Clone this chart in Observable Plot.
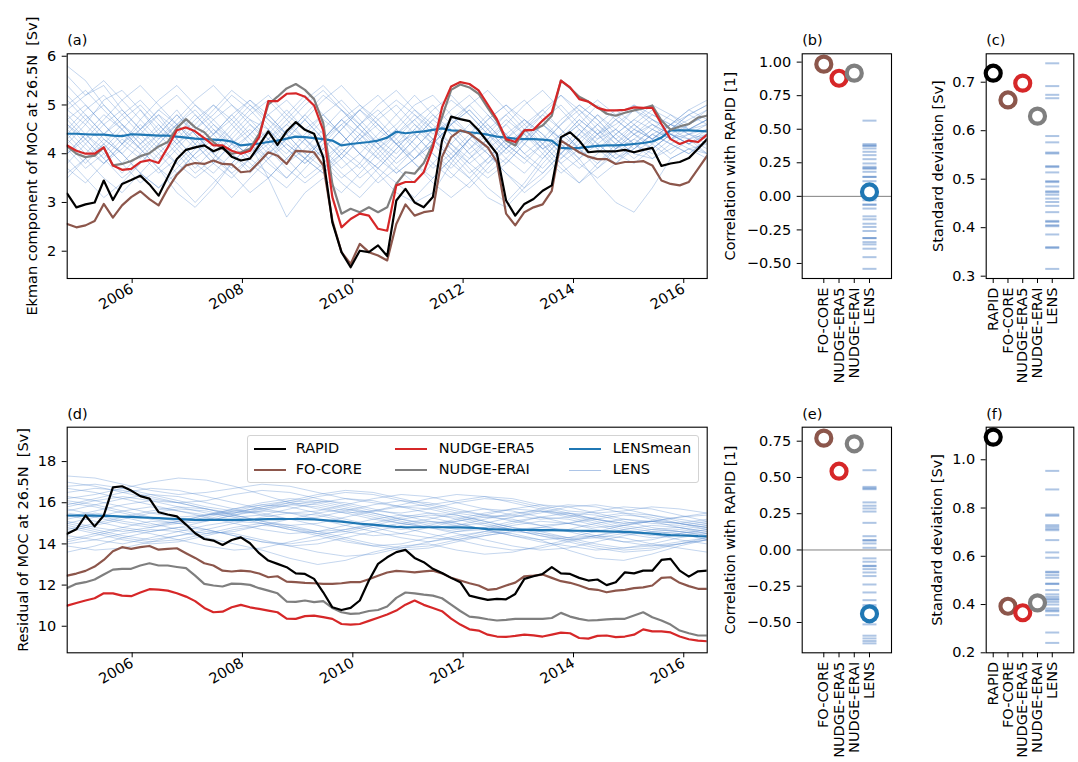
<!DOCTYPE html>
<html><head><meta charset="utf-8">
<script src="https://cdn.jsdelivr.net/npm/d3@7"></script>
<script src="https://cdn.jsdelivr.net/npm/@observablehq/plot@0.6"></script>
<style>
body{margin:0;background:#fff;}
#fig{position:relative;width:1078px;height:762px;font-family:"DejaVu Sans",sans-serif;font-size:14.5px;color:#000;}
#fig svg{position:absolute;left:0;top:0;}
.legend{position:absolute;box-sizing:border-box;border:1px solid #d3d3d3;border-radius:3px;background:rgba(255,255,255,0.8);}
.legend .sw{position:absolute;width:32px;height:0;}
.legend .lb{position:absolute;line-height:1;white-space:pre;}
</style></head><body><div id="fig"></div><script>
// ---------------- data ----------------
const T0 = 2004.822, T1 = 2016.424;           // time span of the records (decimal years)
const yearTicks = [2006, 2008, 2010, 2012, 2014, 2016];

// (a) Ekman component, 71 samples (~2 months apart)
const rapidA = [3.18,2.90,2.96,3.00,3.45,3.05,3.38,3.46,3.55,3.37,3.14,3.52,3.89,4.08,4.13,4.17,4.05,4.13,3.94,3.86,3.90,4.17,4.46,4.18,4.46,4.65,4.49,4.41,3.93,2.59,1.98,1.67,2.01,1.98,2.12,1.90,3.04,3.28,3.00,2.90,3.11,4.27,4.76,4.71,4.67,4.48,4.24,4.00,3.04,2.73,2.97,3.07,3.24,3.35,4.34,4.44,4.27,4.03,4.05,4.05,4.05,4.08,4.03,4.08,4.12,3.75,3.80,3.83,3.91,4.10,4.30];
const focoreA = [2.56,2.49,2.53,2.62,2.97,2.69,2.94,3.11,3.23,3.07,2.94,3.28,3.57,3.76,3.81,3.79,3.86,3.79,3.78,3.62,3.64,3.83,4.03,3.96,3.79,4.06,4.05,4.03,3.76,2.63,1.98,1.74,2.15,1.98,1.91,1.81,2.56,2.96,2.73,2.80,2.83,3.93,4.34,4.48,4.42,4.28,4.13,3.83,2.77,2.53,2.80,2.90,2.96,3.24,4.27,4.15,4.03,3.94,3.89,3.89,3.79,3.83,3.83,3.85,3.76,3.45,3.38,3.35,3.42,3.69,3.96];
const era5A = [4.17,4.06,4.00,4.00,4.13,3.76,3.67,3.69,3.83,3.87,3.81,4.13,4.48,4.54,4.46,4.32,4.17,4.17,4.06,4.00,4.06,4.34,5.08,5.08,5.23,5.24,5.17,4.99,4.48,3.11,2.49,2.66,2.77,2.73,2.46,2.42,3.35,3.42,3.42,3.62,4.13,4.95,5.38,5.47,5.43,5.30,5.01,4.71,4.30,4.24,4.48,4.49,4.68,4.85,5.50,5.36,5.12,5.07,4.94,4.89,4.89,4.90,4.95,4.94,4.94,4.61,4.30,4.20,4.27,4.24,4.39];
const eraiA = [4.15,4.00,3.93,3.96,4.13,3.76,3.79,3.85,3.95,4.01,4.15,4.24,4.53,4.71,4.54,4.44,4.24,4.10,4.00,4.03,4.10,4.41,5.01,5.17,5.34,5.43,5.31,5.12,4.63,3.38,2.77,2.87,2.80,2.90,2.80,2.90,3.38,3.62,3.59,3.81,4.20,4.75,5.31,5.42,5.36,5.23,4.94,4.67,4.27,4.17,4.48,4.49,4.58,4.78,5.50,5.35,5.17,5.07,4.95,4.82,4.78,4.84,4.89,4.93,4.99,4.68,4.49,4.56,4.61,4.74,4.78];
const lensMeanA = [4.41,4.41,4.40,4.39,4.39,4.37,4.36,4.40,4.39,4.38,4.37,4.37,4.35,4.33,4.31,4.30,4.29,4.28,4.25,4.17,4.19,4.21,4.24,4.27,4.31,4.35,4.34,4.32,4.30,4.27,4.17,4.20,4.22,4.24,4.27,4.33,4.45,4.42,4.44,4.46,4.49,4.52,4.48,4.47,4.44,4.42,4.39,4.35,4.33,4.31,4.30,4.30,4.29,4.27,4.12,4.11,4.12,4.14,4.16,4.17,4.17,4.18,4.20,4.22,4.25,4.33,4.48,4.48,4.48,4.47,4.46];
// (a) LENS members, 36 samples (~4 months apart)
const lensA = [
"5.8 5.5 5.0 4.6 4.2 4.5 4.9 4.4 4.0 4.3 4.7 4.5 4.1 3.8 4.2 4.6 4.9 4.5 4.2 4.4 4.0 3.7 4.1 4.5 4.8 4.4 4.1 4.3 4.6 4.2 3.9 4.1 4.4 4.6 4.5 4.7",
"5.6 5.2 5.4 4.9 4.5 4.8 4.3 3.9 4.2 4.6 5.0 4.7 4.4 4.8 5.2 4.9 4.5 4.2 3.9 4.3 4.7 5.1 4.8 4.4 4.0 4.3 4.7 5.0 4.6 4.3 4.5 4.9 4.6 4.3 4.6 4.8",
"4.2 4.6 5.1 5.3 4.9 4.4 4.0 3.6 3.9 4.4 4.8 5.1 4.7 4.3 3.9 3.5 3.8 4.3 4.6 5.0 5.2 4.8 4.4 4.1 3.8 4.2 4.6 4.3 4.0 4.4 4.8 5.0 4.7 4.4 4.3 4.5",
"3.6 3.9 4.3 4.0 3.6 3.3 3.7 4.1 4.5 4.2 3.8 3.5 3.9 4.3 4.7 4.4 4.0 3.7 3.4 3.1 3.5 3.9 4.3 4.6 4.2 3.9 3.6 4.0 4.4 4.1 3.8 4.1 4.4 4.2 4.0 4.3",
"4.5 4.1 3.8 4.2 4.7 5.1 5.4 5.0 4.6 4.2 4.0 4.4 4.8 5.2 4.8 4.4 4.0 3.6 3.2 3.0 3.2 3.8 4.3 4.7 5.0 4.7 4.3 3.9 4.2 4.6 4.9 4.6 4.3 4.5 4.8 5.0",
"4.9 4.6 4.2 3.8 3.4 3.7 4.1 4.5 4.8 5.2 4.9 4.5 4.1 3.8 4.1 4.5 4.9 5.2 4.8 4.4 4.0 3.6 3.3 3.7 4.1 4.5 4.9 5.2 4.9 4.5 4.1 4.3 4.6 4.4 4.2 4.4",
"4.0 4.4 4.8 4.5 4.1 3.7 3.2 2.9 3.3 3.8 4.2 3.5 2.7 3.2 3.5 3.2 3.6 4.0 4.4 4.8 4.5 4.1 3.7 3.3 3.0 3.4 3.9 4.3 4.7 4.4 4.0 3.8 4.1 4.4 4.2 4.0",
"5.2 4.8 4.4 4.7 5.0 4.6 4.2 4.5 4.9 5.3 5.0 4.6 4.2 3.9 4.3 4.7 5.0 4.7 4.3 3.9 4.2 4.6 5.0 5.3 4.9 4.5 4.1 4.4 4.8 5.1 4.8 4.5 4.3 4.6 4.9 5.1",
"3.9 3.5 3.1 3.4 3.8 4.2 4.6 4.3 3.9 3.6 3.2 3.5 3.9 4.3 4.0 3.6 3.3 3.7 4.1 4.5 4.2 3.8 3.5 3.1 2.9 3.3 3.8 4.2 3.9 3.4 3.0 2.8 3.3 3.9 4.1 4.0",
"4.7 5.0 4.6 4.2 3.9 4.3 4.7 5.1 5.4 5.0 4.6 4.2 3.8 4.1 4.5 4.9 4.6 4.2 3.8 4.1 4.5 4.9 5.2 4.8 4.4 4.0 4.3 4.7 5.0 4.7 4.3 4.6 4.9 4.7 4.5 4.6",
"4.3 3.9 3.5 3.2 3.6 4.0 4.4 4.8 4.4 4.0 3.7 4.1 4.5 4.2 3.8 3.4 3.1 3.5 3.9 4.3 4.7 4.4 4.0 3.6 3.9 4.3 4.6 4.2 3.8 3.5 3.8 4.2 4.5 4.3 4.1 4.2",
"5.0 5.3 4.9 4.5 4.1 4.4 4.8 4.4 4.0 3.6 3.9 4.3 4.7 5.1 5.4 5.0 4.6 4.2 4.5 4.9 4.6 4.2 3.9 4.2 4.6 5.0 5.3 4.9 4.5 4.1 4.4 4.7 4.5 4.8 4.6 4.9",
"3.8 4.2 4.6 4.9 4.5 4.1 3.8 4.2 4.6 4.3 3.9 3.6 3.3 3.7 4.1 4.5 4.9 4.6 4.2 3.8 3.5 3.9 4.3 4.0 3.6 3.3 3.6 4.0 4.4 4.8 4.5 4.2 4.0 4.3 4.4 4.2",
"4.6 4.3 4.7 5.1 5.4 5.0 4.6 4.2 3.8 3.5 3.9 4.3 4.6 4.3 3.9 4.2 4.6 5.0 5.3 4.9 4.5 4.1 3.8 4.1 4.4 4.7 4.4 4.0 3.7 4.0 4.4 4.7 5.0 4.8 4.5 4.7",
"4.1 3.7 4.0 4.4 4.1 3.7 3.4 3.0 3.4 3.8 4.2 3.9 3.5 3.9 4.3 4.7 4.3 3.9 3.6 3.9 4.3 4.7 4.4 4.0 3.6 3.2 3.5 3.9 4.3 4.6 4.3 4.0 3.9 4.2 4.0 4.3",
"5.4 5.0 4.6 4.2 4.5 4.9 5.2 4.8 4.4 4.7 5.1 4.8 4.4 4.0 3.7 4.0 4.4 4.8 5.1 4.8 4.4 4.7 5.0 4.6 4.2 3.9 4.2 4.6 4.9 4.6 4.2 4.5 4.8 4.6 4.9 4.7",
"4.4 4.8 4.4 4.0 3.6 3.3 3.6 4.0 4.4 4.8 5.1 4.7 4.3 3.9 3.6 4.0 4.4 4.1 3.7 3.4 3.8 4.2 4.6 4.3 3.9 3.6 4.0 4.4 4.1 3.7 4.0 4.3 4.1 4.4 4.2 4.5",
"4.8 4.4 4.1 4.5 4.9 4.5 4.1 3.7 4.1 4.5 4.9 5.2 4.8 4.5 4.8 5.1 4.7 4.3 4.0 4.4 4.8 4.5 4.1 4.4 4.8 5.1 4.7 4.3 4.6 5.0 4.7 4.4 4.7 4.5 4.7 4.9",
"3.5 3.9 4.2 3.8 4.2 4.6 4.2 3.8 3.5 3.1 3.5 3.9 4.2 3.9 3.6 3.9 4.3 4.6 4.2 3.8 3.4 3.1 3.4 3.8 4.2 4.5 4.2 3.8 3.4 3.7 4.1 4.4 4.2 3.9 4.1 3.9",
"4.9 5.2 5.5 5.1 4.7 4.3 4.6 5.0 4.7 4.3 3.9 4.2 4.6 5.0 5.3 4.9 4.5 4.1 4.4 4.7 5.0 4.6 4.2 3.8 4.1 4.5 4.8 5.2 4.8 4.4 4.6 4.9 4.7 4.5 4.8 4.6",
"4.2 3.8 4.2 4.6 4.3 3.9 4.3 4.7 5.0 4.6 4.2 3.8 3.5 3.9 4.3 4.7 4.4 4.0 3.6 3.9 4.3 4.0 3.6 3.9 4.3 4.7 4.4 4.0 4.4 4.8 4.4 4.1 4.4 4.2 4.4 4.3",
"4.0 4.3 3.9 3.5 3.8 4.2 4.6 4.9 4.5 4.1 4.4 4.8 5.1 4.7 4.3 3.9 3.5 3.8 4.2 4.6 4.3 3.9 4.3 4.7 5.0 4.6 4.2 3.8 4.1 4.5 4.2 3.9 4.2 4.5 4.3 4.1",
"4.7 4.3 3.9 4.3 4.0 3.6 3.9 4.3 4.7 5.0 4.7 4.3 4.0 4.4 4.8 4.4 4.0 3.7 4.1 4.5 4.9 5.2 4.8 4.4 4.1 4.5 4.1 3.7 3.4 3.8 4.2 4.6 4.3 4.0 4.3 4.4",
"3.7 3.4 3.8 4.2 4.6 4.2 3.8 3.5 3.8 4.2 4.5 4.1 3.7 3.4 3.7 4.1 3.8 3.4 3.7 4.1 4.5 4.2 3.8 3.5 3.8 4.2 4.6 4.3 3.9 4.2 4.5 4.2 3.9 4.1 4.3 4.0",
"5.1 4.7 4.3 4.0 4.4 4.8 4.5 4.1 4.4 4.8 4.4 4.0 4.3 4.7 5.1 5.4 5.0 4.6 4.2 3.9 4.2 4.6 4.9 4.5 4.1 4.4 4.8 4.5 4.1 4.4 4.7 5.0 4.8 4.6 4.8 5.0",
"4.4 4.0 4.4 4.8 5.1 4.7 4.3 3.9 3.6 4.0 4.4 4.8 4.4 4.0 4.3 4.6 4.2 3.9 4.3 4.7 4.3 3.9 3.5 3.9 4.3 4.6 4.9 4.5 4.1 3.8 4.1 4.5 4.3 4.6 4.4 4.6",
"4.5 4.9 5.2 4.8 4.4 4.0 3.6 4.0 4.3 4.0 3.6 4.0 4.4 4.8 4.4 4.0 3.7 4.1 4.5 4.2 3.8 3.5 3.9 4.3 4.6 4.2 3.9 4.3 4.7 4.4 4.1 4.4 4.6 4.4 4.2 4.4",
"4.0 4.4 4.0 3.6 4.0 4.4 4.8 4.4 4.0 3.7 4.1 4.5 4.9 4.5 4.1 3.7 4.0 4.4 4.8 5.2 4.8 4.4 4.0 4.3 4.7 4.4 4.0 3.6 3.9 4.3 4.7 4.4 4.1 4.4 4.6 4.8",
"4.6 4.2 3.8 4.1 4.5 4.9 4.6 4.2 3.8 4.2 4.6 4.3 3.9 3.5 3.8 4.2 4.6 4.9 4.5 4.1 3.7 4.0 4.4 4.8 4.4 4.0 3.7 4.1 4.5 4.2 3.9 4.2 4.5 4.3 4.5 4.7",
"4.3 4.7 5.0 4.6 4.2 3.8 4.2 4.6 5.0 4.7 4.3 3.9 4.3 4.7 4.3 3.9 4.3 4.7 5.0 4.6 4.2 4.6 4.9 4.5 4.1 3.8 4.2 4.6 5.0 4.7 4.3 4.0 4.3 4.6 4.4 4.5"
].map(s => s.split(" ").map(Number));

// (d) residual of MOC, 71 samples
const rapidD = [14.49,14.71,15.38,14.85,15.38,16.75,16.80,16.59,16.32,16.20,15.54,15.43,15.34,14.94,14.52,14.24,14.16,13.95,14.19,14.32,14.03,13.55,13.19,13.03,12.87,12.57,12.54,12.30,11.65,10.92,10.79,10.89,11.25,12.22,13.03,13.35,13.60,13.71,13.32,13.11,12.79,12.59,12.35,12.14,11.49,11.38,11.28,11.33,11.31,11.57,12.30,12.43,12.54,12.87,12.57,12.54,12.35,12.22,12.27,12.00,12.14,12.62,12.57,12.70,12.70,13.22,13.27,12.70,12.41,12.67,12.70];
const focoreD = [12.46,12.56,12.69,12.90,13.22,13.64,13.84,13.76,13.84,13.90,13.72,13.76,13.79,13.55,13.32,13.06,12.95,12.70,12.66,12.70,12.67,12.56,12.38,12.43,12.17,12.14,12.11,12.09,12.06,12.06,12.09,12.14,12.14,12.28,12.45,12.61,12.69,12.66,12.62,12.67,12.70,12.57,12.35,12.22,12.09,11.98,11.77,11.82,11.98,12.12,12.43,12.46,12.51,12.35,12.19,12.11,11.98,11.82,11.77,11.65,11.73,11.77,11.85,11.89,11.98,12.35,12.38,12.11,11.95,11.82,11.82];
const era5D = [11.00,11.13,11.25,11.36,11.60,11.60,11.49,11.46,11.64,11.80,11.78,11.73,11.60,11.44,11.22,10.89,10.68,10.71,10.92,11.04,10.92,10.84,10.76,10.68,10.37,10.36,10.49,10.52,10.44,10.36,10.11,10.08,10.11,10.26,10.41,10.57,10.76,11.05,11.25,11.04,10.89,10.73,10.37,10.08,9.85,9.79,9.59,9.50,9.48,9.53,9.59,9.56,9.50,9.59,9.69,9.66,9.43,9.40,9.53,9.55,9.47,9.50,9.59,9.85,9.75,9.75,9.70,9.50,9.37,9.30,9.27];
const eraiD = [11.86,12.06,12.14,12.27,12.51,12.75,12.79,12.79,12.95,13.06,12.95,12.95,12.88,12.82,12.46,12.06,11.98,11.93,12.07,12.06,12.01,11.85,11.73,11.60,11.20,11.18,11.25,11.17,11.22,10.89,10.68,10.60,10.63,10.74,10.79,10.96,11.38,11.64,11.60,11.54,11.49,11.36,11.05,10.74,10.47,10.42,10.34,10.28,10.31,10.36,10.36,10.36,10.36,10.40,10.65,10.47,10.36,10.28,10.30,10.33,10.36,10.36,10.52,10.68,10.44,10.28,10.08,9.79,9.66,9.55,9.55];
const lensMeanD = [15.38,15.38,15.37,15.37,15.36,15.35,15.33,15.31,15.29,15.27,15.25,15.23,15.21,15.19,15.17,15.17,15.17,15.17,15.17,15.17,15.18,15.19,15.20,15.20,15.21,15.21,15.20,15.19,15.16,15.12,15.08,15.03,14.98,14.95,14.91,14.87,14.83,14.81,14.81,14.81,14.81,14.81,14.80,14.80,14.79,14.76,14.72,14.70,14.69,14.68,14.68,14.68,14.67,14.67,14.66,14.65,14.64,14.63,14.62,14.61,14.60,14.58,14.56,14.53,14.50,14.46,14.43,14.41,14.40,14.38,14.37];
// (d) LENS members, 24 samples (~6 months apart)
const lensD = [
"17.3 17.2 16.9 16.6 16.4 16.5 16.7 16.9 16.8 16.5 16.2 16.0 15.8 15.9 16.1 16.3 16.2 15.9 15.6 15.5 15.6 15.8 15.7 15.5",
"16.2 16.4 16.7 17.0 17.2 17.1 16.8 16.4 16.0 15.7 15.5 15.6 15.9 16.2 16.4 16.3 16.0 15.7 15.4 15.2 15.0 15.1 15.3 15.4",
"15.0 14.7 14.4 14.2 14.4 14.7 15.0 15.3 15.5 15.4 15.1 14.8 14.5 14.3 14.2 14.4 14.6 14.8 14.7 14.4 14.1 13.9 14.0 14.2",
"14.2 14.5 14.8 15.1 15.0 14.7 14.4 14.1 13.9 14.0 14.3 14.6 14.9 15.1 15.0 14.7 14.4 14.1 13.9 13.7 13.8 14.0 14.3 14.5",
"15.8 16.1 16.3 16.1 15.8 15.5 15.3 15.4 15.7 16.0 16.2 16.1 15.8 15.5 15.2 14.9 14.7 14.8 15.0 15.2 15.4 15.3 15.0 14.8",
"13.9 13.7 13.8 14.1 14.4 14.6 14.5 14.2 13.9 13.6 13.4 13.5 13.8 14.1 14.4 14.6 14.5 14.2 13.7 13.3 13.2 13.5 13.9 14.2",
"16.7 16.5 16.2 15.9 15.6 15.4 15.5 15.8 16.1 16.4 16.6 16.5 16.2 15.9 15.6 15.4 15.3 15.5 15.8 15.9 15.7 15.4 15.2 15.0",
"15.4 15.1 14.8 14.6 14.8 15.1 15.4 15.6 15.5 15.2 14.9 14.6 14.3 14.1 14.3 14.6 14.9 15.1 15.0 14.7 14.5 14.3 14.4 14.6",
"14.6 14.9 15.2 15.5 15.7 15.6 15.3 15.0 14.7 14.5 14.6 14.9 15.2 15.4 15.3 15.0 14.7 14.4 14.2 14.3 14.5 14.7 14.6 14.4",
"16.0 15.8 15.5 15.2 15.0 15.1 15.4 15.7 15.9 15.8 15.5 15.2 15.0 15.2 15.5 15.7 15.6 15.3 15.0 14.8 14.9 15.1 15.0 14.8",
"13.6 13.9 14.3 14.6 14.8 14.7 14.4 14.1 14.0 14.2 14.5 14.8 15.0 14.8 14.5 14.2 13.9 13.7 13.8 14.1 14.4 14.6 14.5 14.2",
"15.6 15.9 16.2 16.4 16.3 16.0 15.7 15.4 15.2 15.3 15.6 15.9 16.1 16.0 15.7 15.4 15.1 14.9 15.0 15.3 15.5 15.4 15.1 14.9",
"14.9 14.6 14.3 14.1 14.2 14.5 14.8 15.0 14.9 14.6 14.3 14.0 13.8 13.9 14.2 14.5 14.7 14.6 14.3 14.0 13.8 13.9 14.1 14.3",
"16.5 16.7 16.6 16.3 16.0 15.7 15.5 15.6 15.9 16.1 16.0 15.7 15.4 15.1 14.9 15.0 15.3 15.6 15.5 15.2 14.9 14.7 14.8 15.0",
"15.2 15.5 15.3 15.0 14.7 14.5 14.6 14.9 15.2 15.5 15.7 15.5 15.2 14.9 14.7 14.8 15.1 15.3 15.2 14.9 14.6 14.4 14.5 14.7",
"14.0 14.2 14.5 14.7 14.6 14.3 14.0 13.7 13.3 13.0 13.2 13.6 13.9 14.0 13.7 13.5 13.6 13.9 14.2 14.4 14.3 14.0 13.8 13.6",
"17.0 16.8 16.5 16.2 16.0 16.1 16.4 16.6 16.5 16.2 15.9 15.6 15.5 15.7 16.0 16.2 16.1 15.8 15.5 15.2 15.0 15.1 15.3 15.5",
"15.5 15.3 15.0 14.8 15.0 15.3 15.6 15.9 16.1 16.0 15.7 15.4 15.1 14.8 14.6 14.7 15.0 15.3 15.5 15.4 15.1 14.8 14.6 14.5",
"14.4 14.2 14.0 14.3 14.6 14.9 15.1 15.0 14.7 14.4 14.1 13.9 14.0 14.3 14.6 14.8 14.7 14.4 14.1 13.8 13.6 13.7 14.0 14.3",
"15.9 16.2 16.5 16.7 16.6 16.3 16.0 15.7 15.5 15.6 15.9 16.2 16.4 16.3 16.0 15.7 15.4 15.2 15.3 15.6 15.8 15.7 15.4 15.1",
"15.1 14.8 14.6 14.8 15.1 15.4 15.6 15.5 15.2 14.9 14.6 14.4 14.5 14.8 15.1 15.3 15.2 14.9 14.6 14.3 14.1 14.2 14.5 14.7",
"16.3 16.1 15.8 15.5 15.3 15.4 15.7 16.0 16.2 16.1 15.8 15.5 15.2 15.0 15.1 15.4 15.7 15.9 15.8 15.5 15.2 15.0 14.9 15.1",
"14.7 15.0 15.3 15.6 15.8 15.7 15.4 15.1 14.8 14.6 14.7 15.0 15.3 15.5 15.4 15.1 14.8 14.5 14.3 14.4 14.7 14.9 14.8 14.5",
"15.7 15.4 15.1 14.9 15.1 15.4 15.7 15.9 15.8 15.5 15.2 14.9 14.7 14.9 15.2 15.5 15.7 15.6 15.3 15.0 14.7 14.5 14.6 14.8",
"14.1 14.4 14.7 14.5 14.2 13.9 13.7 13.8 14.1 14.4 14.7 14.9 14.8 14.5 14.2 13.9 13.7 13.8 14.1 14.4 14.6 14.5 14.2 14.0",
"16.8 16.9 16.7 16.4 16.1 15.8 15.6 15.7 16.0 16.3 16.5 16.4 16.1 15.8 15.5 15.3 15.4 15.7 15.9 15.8 15.5 15.2 15.0 15.2",
"15.3 15.6 15.9 16.1 16.0 15.7 15.4 15.1 14.9 15.0 15.3 15.6 15.8 15.7 15.4 15.1 14.8 14.6 14.7 15.0 15.2 15.1 14.8 14.6",
"14.8 14.5 14.2 14.0 14.1 14.4 14.7 14.9 14.8 14.5 14.2 13.9 13.7 13.8 14.1 14.4 14.6 14.5 14.2 13.9 13.7 13.8 14.0 14.2",
"16.1 15.9 15.6 15.3 15.1 15.2 15.5 15.8 16.0 15.9 15.6 15.3 15.0 14.8 14.9 15.2 15.5 15.6 15.4 15.1 14.8 14.6 14.7 14.9",
"15.0 15.3 15.6 15.8 15.6 15.3 15.0 14.7 14.5 14.6 14.9 15.2 15.4 15.3 15.0 14.7 14.4 14.2 14.3 14.6 14.9 15.1 15.0 14.7"
].map(s => s.split(" ").map(Number));

// (b)/(e) correlation with RAPID ; (c)/(f) standard deviation
const corrCats = ["FO-CORE", "NUDGE-ERA5", "NUDGE-ERAI", "LENS"];
const stdCats = ["RAPID", "FO-CORE", "NUDGE-ERA5", "NUDGE-ERAI", "LENS"];
const corrEkman = [0.985, 0.880, 0.918];          // FO-CORE, NUDGE-ERA5, NUDGE-ERAI
const corrEkmanLensMean = 0.033;
const corrEkmanLens = [0.564,0.389,0.377,0.377,0.357,0.332,0.307,0.277,0.245,0.220,0.208,0.208,0.183,0.145,0.145,0.113,0.070,0.033,-0.004,-0.029,-0.062,-0.062,-0.091,-0.149,-0.171,-0.204,-0.228,-0.258,-0.311,-0.311,-0.341,-0.358,-0.390,-0.453,-0.540];
const stdEkman = [0.7186, 0.6634, 0.698, 0.630];   // RAPID, FO-CORE, NUDGE-ERA5, NUDGE-ERAI
const stdEkmanLens = [0.739,0.692,0.674,0.667,0.589,0.576,0.555,0.553,0.527,0.525,0.514,0.496,0.494,0.485,0.475,0.473,0.468,0.460,0.453,0.445,0.432,0.414,0.412,0.405,0.403,0.386,0.360,0.358,0.315];
const corrResid = [0.771, 0.543, 0.732];
const corrResidLensMean = -0.44;
const corrResidLens = [0.550,0.435,0.425,0.419,0.328,0.305,0.286,0.265,0.187,0.095,0.068,0.065,0.045,0.015,-0.058,-0.081,-0.109,-0.112,-0.132,-0.155,-0.180,-0.238,-0.293,-0.346,-0.380,-0.394,-0.415,-0.450,-0.480,-0.513,-0.591,-0.610,-0.628,-0.644];
const stdResid = [1.094, 0.393, 0.366, 0.407];
const stdResidLens = [0.954,0.877,0.773,0.768,0.729,0.722,0.714,0.708,0.667,0.616,0.594,0.536,0.533,0.522,0.511,0.487,0.485,0.460,0.442,0.432,0.424,0.420,0.411,0.400,0.384,0.376,0.372,0.356,0.284,0.241];

// ---------------- styling ----------------
const W = 1078, H = 762;
const COL = {"RAPID":"#000000","FO-CORE":"#8c564b","NUDGE-ERA5":"#d62728","NUDGE-ERAI":"#7f7f7f","LENSmean":"#1f77b4","LENS":"#5b8bd0"};
const STYLE = {fontFamily:"'DejaVu Sans', sans-serif", fontSize:"14.5px", background:"transparent", overflow:"visible", color:"#000"};
const TICKCOL = "#3f74bf";

function decYear(y){ const Y = Math.floor(y); const a = Date.UTC(Y,0,1), b = Date.UTC(Y+1,0,1); return new Date(a + (y - Y)*(b - a)); }
function grid(n){ return d3.range(n).map(i => decYear(T0 + i*(T1 - T0)/(n - 1))); }
function tidy(arr, name){ const t = grid(arr.length); return arr.map((v,i) => ({t:t[i], v, s:name})); }
function tidyLens(members){ return members.flatMap((row,k) => { const t = grid(row.length); return row.map((v,i) => ({t:t[i], v, m:k})); }); }
const hline = { draw(ctx, size){ const r = Math.sqrt(size/Math.PI); ctx.moveTo(-r,0); ctx.lineTo(r,0); } };

function margins(x0,x1,y0,y1){ return {width:W, height:H, marginLeft:x0, marginRight:W-x1, marginTop:y0, marginBottom:H-y1}; }

function timePanel(o){
  const main = [["FO-CORE",o.fo],["NUDGE-ERAI",o.erai],["NUDGE-ERA5",o.era5],["RAPID",o.rapid]];
  return Plot.plot({
    ...margins(...o.frame), style: STYLE,
    x: {type:"utc", domain:[decYear(T0), decYear(T1)]},
    y: {domain:o.ydomain},
    marks: [
      Plot.line(tidyLens(o.lens), {x:"t", y:"v", z:"m", stroke:COL.LENS, strokeOpacity:0.45, strokeWidth:0.8, clip:true}),
      Plot.line(tidy(o.mean,"LENSmean"), {x:"t", y:"v", stroke:COL.LENSmean, strokeWidth:2.2, clip:true}),
      ...main.map(([name,arr]) => Plot.line(tidy(arr,name), {x:"t", y:"v", stroke:COL[name], strokeWidth:2.2, clip:true})),
      Plot.frame({stroke:"#000", strokeWidth:1.1}),
      Plot.axisX({ticks: yearTicks.map(y => new Date(Date.UTC(y,0,1))), tickFormat: d3.utcFormat("%Y"), tickRotate:-30, tickSize:5, tickPadding:4, label:null}),
      Plot.axisY({ticks:o.yticks, tickFormat:d3.format("d"), tickSize:5, tickPadding:6, label:null}),
      Plot.text([o.letter], {text:d=>d, frameAnchor:"top-left", dy:-13, textAnchor:"start", lineAnchor:"middle"}),
      Plot.text([o.ylabel], {text:d=>d, frameAnchor:"left", dx:o.ylabelDx, rotate:-90, textAnchor:"middle", lineAnchor:"middle"})
    ]
  });
}

function catPanel(o){
  return Plot.plot({
    ...margins(...o.frame), style: STYLE,
    x: {domain:o.xdomain},
    y: {domain:o.ydomain},
    color: {type:"identity"},
    marks: [
      o.zero ? Plot.ruleY([0], {stroke:"#808080", strokeWidth:1}) : null,
      Plot.dot(o.lens, {x:() => o.cats.indexOf("LENS"), y:d => d, symbol:hline, r:7, fill:"none", stroke:TICKCOL, strokeOpacity:0.42, strokeWidth:2}),
      Plot.dot(o.dots, {x:"i", y:"v", r:7.5, stroke:"c", fill:"white", strokeWidth:4.2}),
      Plot.frame({stroke:"#000", strokeWidth:1.1}),
      Plot.axisX({ticks:d3.range(o.cats.length), tickFormat:i => o.cats[i], tickRotate:-90, tickSize:5, tickPadding:4, label:null}),
      Plot.axisY({ticks:o.yticks, tickFormat:d3.format(o.fmt), tickSize:5, tickPadding:6, label:null}),
      Plot.text([o.letter], {text:d=>d, frameAnchor:"top-left", dy:-13, textAnchor:"start", lineAnchor:"middle"}),
      Plot.text([o.ylabel], {text:d=>d, frameAnchor:"left", dx:o.ylabelDx, rotate:-90, textAnchor:"middle", lineAnchor:"middle"})
    ]
  });
}

const corrDots = (vals, lensMean) => [
  ...vals.map((v,i) => ({i, v, c:COL[corrCats[i]]})),
  {i:corrCats.indexOf("LENS"), v:lensMean, c:COL.LENSmean}
];
const stdDots = vals => vals.map((v,i) => ({i, v, c:COL[stdCats[i]]}));

const fig = document.getElementById("fig");
const TOP = [53.3, 278], BOT = [426.7, 652.3];
const XA = [66.7, 706.7], XB = [801.7, 891], XC = [985.7, 1073.3];
const corrX = [-1.418, 4.445], stdX = [-0.475, 5.46];

fig.append(timePanel({frame:[...XA,...TOP], ydomain:[1.44,6.05], yticks:[2,3,4,5,6], letter:"(a)",
  ylabel:"Ekman component of MOC at 26.5N  [Sv]", ylabelDx:-35,
  lens:lensA, mean:lensMeanA, rapid:rapidA, fo:focoreA, era5:era5A, erai:eraiA}));
fig.append(catPanel({frame:[...XB,...TOP], xdomain:corrX, ydomain:[-0.612,1.062], cats:corrCats, zero:true,
  yticks:[-0.5,-0.25,0,0.25,0.5,0.75,1], fmt:".2f", letter:"(b)", ylabel:"Correlation with RAPID [1]", ylabelDx:-71.7,
  lens:corrEkmanLens, dots:corrDots(corrEkman, corrEkmanLensMean)}));
fig.append(catPanel({frame:[...XC,...TOP], xdomain:stdX, ydomain:[0.2952,0.7586], cats:stdCats, zero:false,
  yticks:[0.3,0.4,0.5,0.6,0.7], fmt:".1f", letter:"(c)", ylabel:"Standard deviation [Sv]", ylabelDx:-47.4,
  lens:stdEkmanLens, dots:stdDots(stdEkman)}));
fig.append(timePanel({frame:[...XA,...BOT], ydomain:[8.71,19.67], yticks:[10,12,14,16,18], letter:"(d)",
  ylabel:"Residual of MOC at 26.5N  [Sv]", ylabelDx:-43.4,
  lens:lensD, mean:lensMeanD, rapid:rapidD, fo:focoreD, era5:era5D, erai:eraiD}));
fig.append(catPanel({frame:[...XB,...BOT], xdomain:corrX, ydomain:[-0.709,0.8465], cats:corrCats, zero:true,
  yticks:[-0.5,-0.25,0,0.25,0.5,0.75], fmt:".2f", letter:"(e)", ylabel:"Correlation with RAPID [1]", ylabelDx:-71.7,
  lens:corrResidLens, dots:corrDots(corrResid, corrResidLensMean)}));
fig.append(catPanel({frame:[...XC,...BOT], xdomain:stdX, ydomain:[0.2,1.135], cats:stdCats, zero:false,
  yticks:[0.2,0.4,0.6,0.8,1.0], fmt:".1f", letter:"(f)", ylabel:"Standard deviation [Sv]", ylabelDx:-49,
  lens:stdResidLens, dots:stdDots(stdResid)}));

// legend for panel (d)
const legendItems = [["RAPID",0,0],["FO-CORE",0,1],["NUDGE-ERA5",1,0],["NUDGE-ERAI",1,1],["LENSmean",2,0],["LENS",2,1]];
const lg = document.createElement("div");
lg.className = "legend";
Object.assign(lg.style, {left:"247px", top:"435px", width:"452px", height:"48px"});
const colX = [5.5, 147, 320.7], textX = [47.7, 190.7, 364.7], rowY = [12.7, 34.4];
for (const [name, c, r] of legendItems) {
  const sw = document.createElement("div");
  sw.className = "sw";
  const lw = name === "LENS" ? 1 : 2.2;
  Object.assign(sw.style, {left:colX[c]+"px", top:(rowY[r]-lw/2)+"px", borderTop:`${lw}px solid ${name==="LENS" ? "rgba(91,139,208,0.5)" : COL[name]}`});
  lg.append(sw);
  const tx = document.createElement("div");
  tx.className = "lb";
  tx.textContent = name;
  Object.assign(tx.style, {left:textX[c]+"px", top:(rowY[r]-8)+"px"});
  lg.append(tx);
}
fig.append(lg);
</script></body></html>
